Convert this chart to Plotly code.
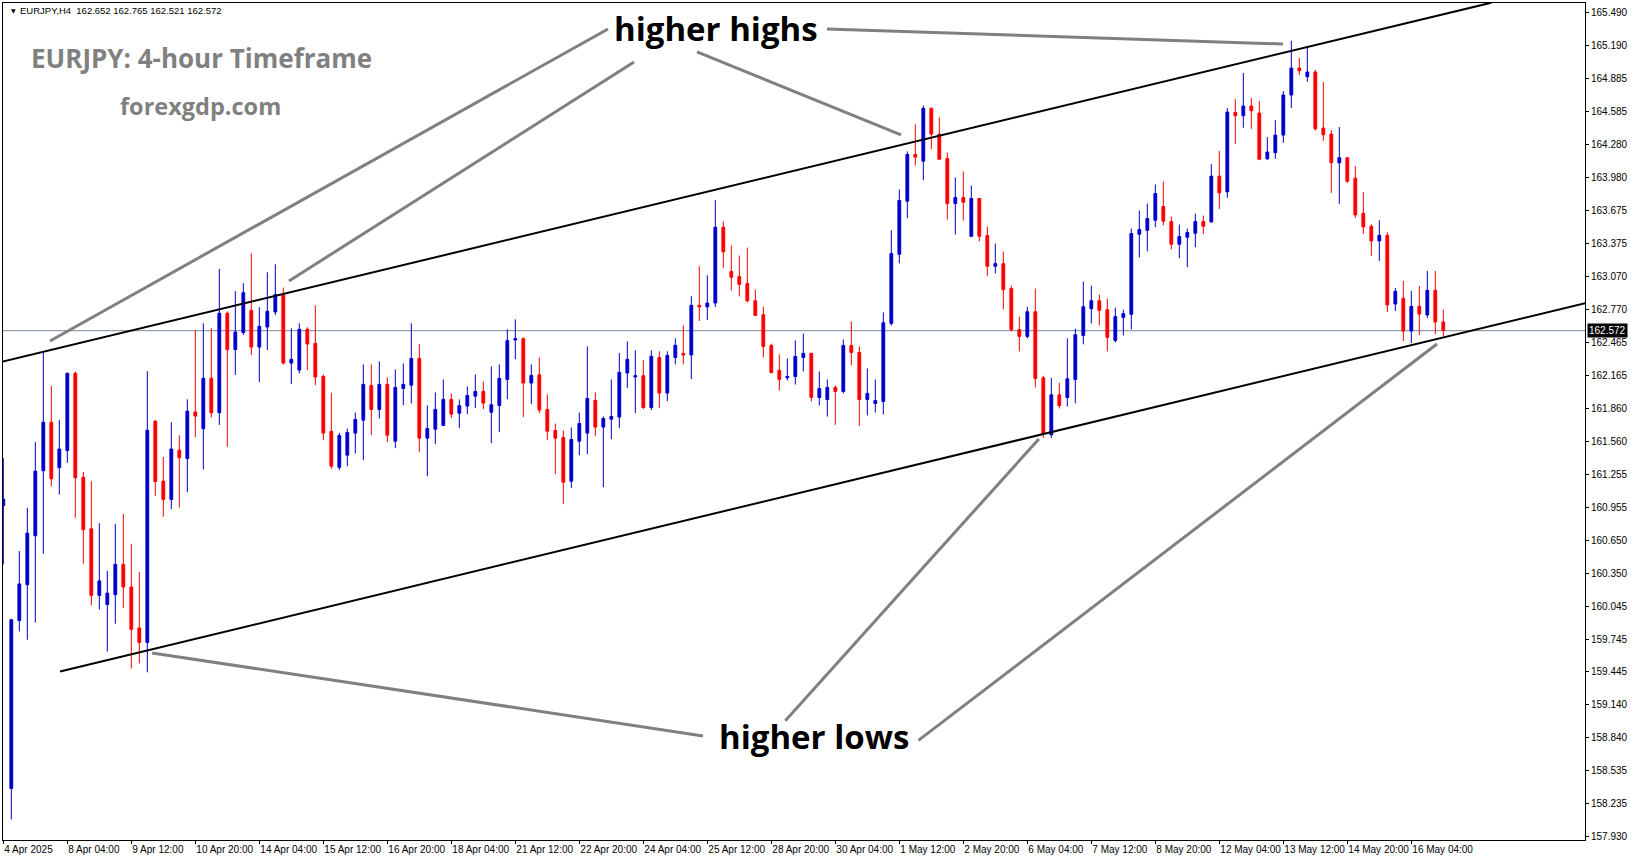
import plotly.graph_objects as go

# ---------------- data (EURJPY, H4) ----------------
OPEN = [160.969, 158.375, 159.914, 160.243, 160.692, 161.288, 161.733, 161.316, 161.473, 162.181,
        161.228, 160.755, 160.145, 160.061, 160.152, 160.429, 160.222, 159.847, 159.714, 161.743,
        161.193, 161.025, 161.477, 161.400, 161.827, 161.673, 162.136, 161.820, 162.732, 162.399,
        162.554, 162.759, 162.422, 162.606, 162.744, 162.903, 162.275, 162.211, 162.585, 162.456,
        162.153, 161.648, 161.320, 161.431, 161.633, 161.752, 162.070, 161.850, 162.080, 161.559,
        162.043, 162.073, 162.318, 161.587, 161.669, 161.703, 161.942, 161.816, 161.881, 161.972,
        162.015, 161.825, 161.887, 162.125, 162.487, 162.499, 162.092, 162.168, 161.850, 161.657,
        161.593, 161.192, 161.559, 161.633, 161.933, 161.688, 161.761, 161.780, 162.184, 162.147,
        162.159, 161.868, 162.327, 162.000, 162.327, 162.364, 162.349, 162.805, 162.790, 162.826,
        163.521, 163.114, 163.068, 163.004, 162.847, 162.719, 162.437, 162.208, 162.140, 162.153,
        162.327, 162.364, 161.960, 161.941, 162.052, 162.015, 162.437, 162.373, 161.941, 161.905,
        161.923, 162.639, 163.273, 163.760, 164.188, 164.127, 164.611, 164.375, 164.151, 163.738,
        163.793, 163.438, 163.784, 163.444, 163.163, 163.187, 162.958, 162.581, 162.520, 162.746,
        162.140, 161.617, 161.984, 161.960, 162.125, 162.529, 162.774, 162.847, 162.765, 162.483,
        162.694, 162.722, 163.457, 163.493, 163.585, 163.711, 163.573, 163.365, 163.429, 163.466,
        163.573, 163.570, 163.989, 163.845, 164.574, 164.543, 164.632, 164.568, 164.148, 164.204,
        164.366, 164.733, 164.981, 164.901, 164.944, 164.430, 164.375, 164.112, 164.158, 163.971,
        163.649, 163.530, 163.395, 163.447, 162.817, 162.869, 162.569, 162.795, 162.716, 162.942,
        162.652]
HIGH = [161.403, 159.930, 160.551, 160.948, 161.550, 162.378, 162.066, 161.754, 162.190, 162.199,
        161.277, 161.193, 160.807, 160.369, 160.800, 160.891, 160.618, 160.359, 162.202, 161.750,
        161.414, 161.733, 161.614, 161.943, 162.577, 162.640, 162.595, 163.138, 162.749, 162.935,
        163.007, 163.282, 162.787, 163.108, 163.181, 162.967, 162.594, 162.640, 162.603, 162.805,
        162.171, 162.003, 161.636, 161.675, 161.822, 162.263, 162.263, 162.291, 162.144, 162.217,
        162.272, 162.640, 162.450, 161.887, 162.006, 162.125, 161.997, 161.942, 162.061, 162.171,
        162.107, 162.245, 162.263, 162.585, 162.676, 162.511, 162.263, 162.327, 161.988, 161.721,
        161.657, 161.685, 161.822, 162.429, 162.006, 161.786, 162.125, 162.367, 162.474, 162.392,
        162.300, 162.392, 162.383, 162.383, 162.502, 162.621, 162.888, 163.163, 163.080, 163.769,
        163.576, 163.353, 163.261, 163.334, 162.948, 162.792, 162.453, 162.355, 162.318, 162.483,
        162.547, 162.370, 162.198, 162.125, 162.070, 162.492, 162.658, 162.428, 162.226, 162.125,
        162.740, 163.493, 163.867, 164.216, 164.464, 164.638, 164.620, 164.528, 164.206, 163.977,
        164.032, 163.903, 163.790, 163.527, 163.371, 163.297, 162.985, 162.701, 162.792, 162.958,
        162.159, 162.140, 162.094, 162.502, 162.590, 163.022, 162.985, 162.903, 162.866, 162.783,
        162.765, 163.509, 163.674, 163.738, 163.913, 163.940, 163.619, 163.545, 163.509, 163.646,
        163.628, 164.099, 164.219, 164.614, 164.696, 164.935, 164.705, 164.678, 164.347, 164.503,
        164.770, 165.229, 165.073, 165.174, 164.963, 164.852, 164.412, 164.439, 164.165, 164.081,
        163.842, 163.548, 163.585, 163.475, 162.964, 163.028, 162.936, 162.982, 163.120, 163.120,
        162.765]
LOW = [160.429, 158.091, 159.815, 159.738, 159.896, 160.527, 161.144, 161.070, 161.361, 160.857,
       160.436, 160.054, 160.015, 159.630, 159.885, 160.029, 159.475, 159.521, 159.440, 161.060,
       160.867, 160.937, 160.951, 161.091, 161.596, 161.298, 161.778, 161.708, 161.508, 162.167,
       162.533, 162.349, 162.101, 162.395, 162.716, 162.263, 162.083, 162.181, 162.211, 162.073,
       161.568, 161.305, 161.293, 161.330, 161.446, 161.385, 161.614, 161.767, 161.550, 161.495,
       161.890, 161.905, 161.458, 161.238, 161.532, 161.700, 161.770, 161.679, 161.807, 161.862,
       161.853, 161.541, 161.642, 161.945, 162.312, 161.780, 161.899, 161.816, 161.568, 161.256,
       160.981, 161.128, 161.431, 161.440, 161.605, 161.137, 161.578, 161.679, 162.046, 161.816,
       161.853, 161.844, 161.862, 161.927, 162.263, 162.263, 162.129, 162.661, 162.670, 162.790,
       163.148, 162.942, 162.887, 162.832, 162.704, 162.327, 162.180, 162.024, 162.116, 162.079,
       162.198, 161.923, 161.886, 161.785, 161.709, 161.997, 162.254, 161.700, 161.795, 161.822,
       161.804, 162.621, 163.190, 163.604, 164.087, 163.952, 164.237, 164.140, 163.591, 163.454,
       163.582, 163.430, 163.392, 163.071, 163.098, 162.768, 162.566, 162.382, 162.502, 162.052,
       161.589, 161.589, 161.859, 161.877, 161.906, 162.447, 162.639, 162.621, 162.382, 162.465,
       162.529, 162.584, 163.245, 163.300, 163.521, 163.539, 163.319, 163.236, 163.154, 163.337,
       163.457, 163.561, 163.689, 163.790, 164.283, 164.433, 164.424, 164.136, 164.139, 164.148,
       164.295, 164.614, 164.917, 164.855, 164.405, 164.314, 163.836, 163.735, 163.928, 163.607,
       163.460, 163.258, 163.212, 162.743, 162.753, 162.477, 162.459, 162.532, 162.688, 162.541,
       162.521]
CLOSE = [161.028, 159.921, 160.250, 160.716, 161.284, 161.733, 161.214, 161.487, 162.181, 161.224,
         160.748, 160.145, 160.278, 160.166, 160.429, 160.222, 159.833, 159.714, 161.659, 161.189,
         161.025, 161.487, 161.407, 161.834, 161.789, 162.136, 161.820, 162.732, 162.399, 162.560,
         162.921, 162.422, 162.612, 162.750, 162.903, 162.275, 162.309, 162.585, 162.450, 162.147,
         161.633, 161.330, 161.611, 161.639, 161.758, 162.080, 161.850, 162.080, 161.614, 162.052,
         162.080, 162.318, 161.587, 161.675, 161.850, 161.942, 161.807, 161.884, 161.978, 162.015,
         161.908, 161.893, 162.135, 162.481, 162.499, 162.092, 162.162, 161.844, 161.651, 161.587,
         161.183, 161.574, 161.721, 161.951, 161.688, 161.767, 161.786, 162.190, 162.309, 162.159,
         161.868, 162.337, 162.000, 162.346, 162.438, 162.349, 162.805, 162.790, 162.826, 163.521,
         163.295, 163.062, 162.997, 162.847, 162.713, 162.428, 162.189, 162.125, 162.153, 162.336,
         162.364, 161.960, 162.042, 162.052, 162.015, 162.437, 162.373, 161.941, 161.997, 161.932,
         162.645, 163.279, 163.766, 164.188, 164.164, 164.611, 164.375, 164.145, 163.738, 163.793,
         163.750, 163.784, 163.438, 163.163, 163.187, 162.948, 162.581, 162.520, 162.746, 162.134,
         161.626, 161.984, 161.886, 162.131, 162.535, 162.792, 162.847, 162.759, 162.511, 162.701,
         162.728, 163.463, 163.499, 163.600, 163.830, 163.576, 163.365, 163.435, 163.472, 163.573,
         163.530, 163.989, 163.836, 164.577, 164.543, 164.632, 164.589, 164.145, 164.210, 164.366,
         164.733, 164.981, 164.956, 164.944, 164.424, 164.369, 164.112, 164.158, 163.943, 163.634,
         163.524, 163.395, 163.447, 162.808, 162.933, 162.569, 162.795, 162.725, 162.942, 162.652,
         162.572]

TICK_LABELS = ["4 Apr 2025", "8 Apr 04:00", "9 Apr 12:00", "10 Apr 20:00", "14 Apr 04:00",
               "15 Apr 12:00", "16 Apr 20:00", "18 Apr 04:00", "21 Apr 12:00", "22 Apr 20:00",
               "24 Apr 04:00", "25 Apr 12:00", "28 Apr 20:00", "30 Apr 04:00", "1 May 12:00",
               "2 May 20:00", "6 May 04:00", "7 May 12:00", "8 May 20:00", "12 May 04:00",
               "13 May 12:00", "14 May 20:00", "16 May 04:00"]
BARS_PER_LABEL = 8

PRICE_TICKS = [157.930, 158.235, 158.535, 158.840, 159.140, 159.445, 159.745, 160.045, 160.350,
               160.650, 160.955, 161.255, 161.560, 161.860, 162.165, 162.465, 162.770, 163.070,
               163.375, 163.675, 163.980, 164.280, 164.585, 164.885, 165.190, 165.490]

LAST_PRICE = 162.572

# channel lines (bar index, price)
UPPER_LINE = [(-0.1, 162.288), (186.0, 165.580)]
LOWER_LINE = [(7.09, 159.447), (197.8, 162.826)]

# annotation pointer lines (bar index, price)
HIGH_POINTERS = [[(5.84, 162.478), (75.59, 165.339)],
                 [(35.71, 163.028), (78.84, 165.036)],
                 [(86.71, 165.128), (112.21, 164.367)],
                 [(102.96, 165.339), (159.96, 165.201)]]
LOW_POINTERS = [[(87.46, 158.856), (18.59, 159.617)],
                [(97.75, 158.996), (129.45, 161.580)],
                [(114.39, 158.815), (179.2, 162.450)]]

# ---------------- figure ----------------
x = list(range(len(OPEN)))
BLUE = "#0000CD"
RED = "#FF0000"

fig = go.Figure()
fig.add_trace(go.Candlestick(
    x=x, open=OPEN, high=HIGH, low=LOW, close=CLOSE,
    increasing=dict(line=dict(color=BLUE, width=1), fillcolor=BLUE),
    decreasing=dict(line=dict(color=RED, width=1), fillcolor=RED),
    whiskerwidth=0, showlegend=False, hoverinfo="skip",
))

shapes = []
shapes.append(dict(type="line", xref="paper", x0=0, x1=1, yref="y", y0=LAST_PRICE, y1=LAST_PRICE,
                   line=dict(color="#778899", width=1), layer="below"))
for (a, b) in [UPPER_LINE, LOWER_LINE]:
    shapes.append(dict(type="line", xref="x", yref="y", x0=a[0], y0=a[1], x1=b[0], y1=b[1],
                       line=dict(color="black", width=2)))
for seg in HIGH_POINTERS + LOW_POINTERS:
    a, b = seg
    shapes.append(dict(type="line", xref="x", yref="y", x0=a[0], y0=a[1], x1=b[0], y1=b[1],
                       line=dict(color="#808080", width=3)))

ann = []
ann.append(dict(x=89.1, y=165.339, xref="x", yref="y", text="<b>higher highs</b>", showarrow=False,
                font=dict(family="Open Sans", size=33, color="black"), xanchor="center", yanchor="middle"))
ann.append(dict(x=101.3, y=158.847, xref="x", yref="y", text="<b>higher lows</b>", showarrow=False,
                font=dict(family="Open Sans", size=33, color="black"), xanchor="center", yanchor="middle"))
ann.append(dict(x=24.8, y=165.07, xref="x", yref="y", text="<b>EURJPY: 4-hour Timeframe</b>", showarrow=False,
                font=dict(family="Open Sans", size=26, color="#808080"), xanchor="center", yanchor="middle"))
ann.append(dict(x=24.7, y=164.63, xref="x", yref="y", text="<b>forexgdp.com</b>", showarrow=False,
                font=dict(family="Open Sans", size=23.5, color="#808080"), xanchor="center", yanchor="middle"))
ann.append(dict(x=1.84, y=165.505, xref="x", yref="y",
                text="EURJPY,H4\u00a0\u00a0162.652 162.765 162.521 162.572", showarrow=False,
                font=dict(family="Liberation Sans", size=9.5, color="black"), xanchor="left", yanchor="middle"))
ann.append(dict(x=1.3, y=165.505, xref="x", yref="y", text="\u25bc", showarrow=False,
                font=dict(family="DejaVu Sans", size=6, color="black"), xanchor="center", yanchor="middle"))
ann.append(dict(x=1, xref="paper", y=LAST_PRICE, yref="y", text="162.572", showarrow=False,
                xanchor="left", yanchor="middle", xshift=2, bgcolor="black", borderpad=1,
                font=dict(family="Liberation Sans", size=10, color="white")))

fig.update_layout(
    width=1631, height=861,
    margin=dict(l=3, r=46, t=3, b=21, autoexpand=False),
    paper_bgcolor="white", plot_bgcolor="white",
    boxgap=0.5,
    shapes=shapes, annotations=ann,
    showlegend=False,
    xaxis=dict(
        range=[-0.04, 197.71], rangeslider=dict(visible=False),
        tickvals=[i * BARS_PER_LABEL for i in range(len(TICK_LABELS))], ticktext=TICK_LABELS,
        ticks="outside", ticklen=3, tickcolor="black", ticklabelposition="outside right",
        tickangle=0, automargin=False,
        tickfont=dict(family="Liberation Sans", size=10, color="black"),
        showgrid=False, zeroline=False, showline=True, linecolor="black", linewidth=1, mirror=True,
    ),
    yaxis=dict(
        range=[157.902, 165.577], side="right", automargin=False,
        tickvals=PRICE_TICKS, ticktext=[f"{v:.3f}" for v in PRICE_TICKS],
        ticks="outside", ticklen=3, tickcolor="black",
        tickfont=dict(family="Liberation Sans", size=10, color="black"),
        showgrid=False, zeroline=False, showline=True, linecolor="black", linewidth=1, mirror=True,
    ),
)

fig.write_html(
    "out.html",
    config={"displayModeBar": False, "staticPlot": True},
    post_script="document.body.style.margin='0';document.body.style.padding='0';"
                "document.body.style.overflow='hidden';",
)
